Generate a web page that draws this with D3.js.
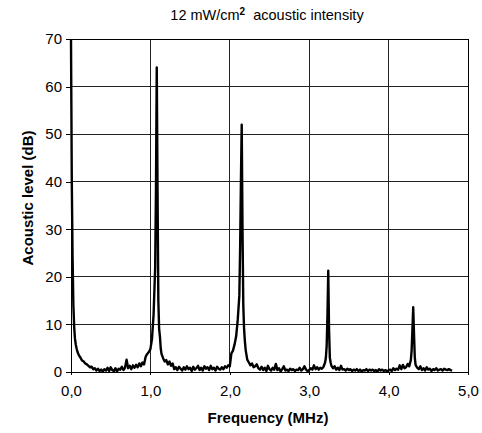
<!DOCTYPE html>
<html><head><meta charset="utf-8">
<script src="https://cdn.jsdelivr.net/npm/d3@7"></script>
<style>
body{margin:0;background:#fff;}
svg{display:block;font-family:"Liberation Sans",Arial,sans-serif;}
</style></head>
<body>
<svg id="c" width="482" height="433"></svg>
<script>
const title = "12 mW/cm";
const titleSup = "2";
const titleRest = "acoustic intensity";
const xLabel = "Frequency (MHz)";
const yLabel = "Acoustic level (dB)";
const xTicks = [0,1,2,3,4,5];
const xTickLabels = ["0,0","1,0","2,0","3,0","4,0","5,0"];
const yTicks = [0,10,20,30,40,50,60,70];

const freq = [0.00,0.005,0.01,0.02,0.03,0.04,0.05,0.06,0.07,0.08,0.09,0.10,0.12,0.14,0.16,0.18,0.20,0.22,0.24,0.26,0.28,0.30,
0.32,0.34,0.36,0.38,0.40,0.42,0.44,0.46,0.48,0.50,0.52,0.54,0.56,0.58,0.60,0.62,0.64,0.66,0.68,0.70,0.72,0.74,0.76,0.78,0.80,
0.82,0.84,0.86,0.88,0.90,0.92,0.94,0.96,0.98,1.00,1.02,1.04,1.06,1.07,1.08,1.09,1.10,1.11,1.12,1.13,1.14,1.16,1.18,1.20,
1.22,1.24,1.26,1.28,1.30,1.32,1.34,1.36,1.38,1.40,1.42,1.44,1.46,1.48,1.50,1.52,1.54,1.56,1.58,1.60,1.62,1.64,1.66,1.68,
1.70,1.72,1.74,1.76,1.78,1.80,1.82,1.84,1.86,1.88,1.90,1.92,1.94,1.96,1.98,2.00,2.02,2.04,2.06,2.08,2.10,2.12,2.13,2.14,
2.15,2.16,2.17,2.18,2.19,2.20,2.22,2.24,2.26,2.28,2.30,2.32,2.34,2.36,2.38,2.40,2.42,2.44,2.46,2.48,2.50,2.52,2.54,2.56,
2.58,2.60,2.62,2.64,2.66,2.68,2.70,2.72,2.74,2.76,2.78,2.80,2.82,2.84,2.86,2.88,2.90,2.92,2.94,2.96,2.98,3.00,3.02,3.04,
3.06,3.08,3.10,3.12,3.14,3.16,3.18,3.20,3.21,3.22,3.23,3.24,3.25,3.26,3.27,3.28,3.30,3.32,3.34,3.36,3.38,3.40,3.42,3.44,
3.46,3.48,3.50,3.52,3.54,3.56,3.58,3.60,3.62,3.64,3.66,3.68,3.70,3.72,3.74,3.76,3.78,3.80,3.82,3.84,3.86,3.88,3.90,3.92,
3.94,3.96,3.98,4.00,4.02,4.04,4.06,4.08,4.10,4.12,4.14,4.16,4.18,4.20,4.22,4.24,4.26,4.28,4.29,4.30,4.31,4.32,4.33,4.34,
4.36,4.38,4.40,4.42,4.44,4.46,4.48,4.50,4.52,4.54,4.56,4.58,4.60,4.62,4.64,4.66,4.68,4.70,4.72,4.74,4.76,4.78,4.80];

const level = [70,55,40,24,14,9.5,7,5.8,5,4.3,3.9,3.5,3.0,2.4,2.2,1.8,1.6,1.3,1.0,1.1,0.6,0.8,
0.3,0.7,0.2,0.5,0.1,0.6,0.3,0.9,0.2,1.0,0.4,0.2,0.8,0.1,0.7,0.5,1.1,0.4,0.9,2.6,0.8,1.3,0.6,1.4,0.9,
1.5,1.0,1.8,1.2,2.0,1.6,3.2,3.8,4.2,4.8,7,12,22,38,64,38,15,9,7.5,5,3.8,2.9,2.2,2.5,
1.6,2.2,1.3,1.8,0.6,1.0,0.4,1.1,0.7,0.3,1.0,0.5,1.2,0.6,0.9,0.2,1.1,0.5,0.8,1.3,0.4,0.9,0.3,1.2,
0.7,1.0,0.4,1.3,0.6,0.9,0.3,1.1,0.7,0.5,1.0,0.6,1.2,0.9,1.4,1.2,3.9,4.5,5.8,7.5,11,16,26,40,
52,30,14,9,6.5,4.6,2.6,2.0,1.4,1.8,1.0,1.2,1.6,0.8,0.5,1.1,0.4,0.9,0.2,1.3,0.6,0.3,0.9,0.5,
1.7,0.4,0.8,0.1,0.6,1.2,0.3,0.5,0.2,0.7,0.4,0.6,0.2,0.5,0.4,0.9,0.3,0.6,1.2,0.5,0.2,0.4,0.8,0.5,
1.4,0.6,1.0,0.5,0.9,0.7,1.1,2.0,3,5.5,12,21.3,9,3,2,1.3,0.8,1.2,0.5,0.9,0.4,1.3,0.5,0.6,
0.3,0.7,0.4,0.6,0.2,0.5,0.3,0.6,0.2,0.5,0.1,0.4,0.3,0.6,0.2,0.5,0.3,0.5,0.2,0.4,0.1,0.6,0.3,0.5,
0.2,0.4,0.2,0.3,0.5,0.2,0.8,0.4,0.7,0.5,1.4,0.6,1.5,0.8,1.0,1.7,1.2,2.5,4.5,9,13.6,8,3,1.5,
0.9,0.6,1.2,0.4,0.8,0.3,1.0,0.5,0.7,0.2,0.6,0.4,0.8,0.3,0.5,0.6,0.3,0.7,0.5,0.4,0.6,0.4,0.3];

const svg = d3.select("#c");
const m = {l:71, r:14, t:39, b:61};
const W = 482, H = 433;
const x = d3.scaleLinear().domain([0,5]).range([m.l, W-m.r]);
const y = d3.scaleLinear().domain([0,70]).range([H-m.b, m.t]);

// gridlines
svg.append("g").selectAll("line").data(yTicks).join("line")
  .attr("x1", m.l).attr("x2", W-m.r).attr("y1", d=>y(d)).attr("y2", d=>y(d))
  .attr("stroke","#222").attr("stroke-width",1).attr("shape-rendering","crispEdges");
svg.append("g").selectAll("line").data(xTicks).join("line")
  .attr("y1", m.t).attr("y2", H-m.b).attr("x1", d=>x(d)).attr("x2", d=>x(d))
  .attr("stroke","#222").attr("stroke-width",1).attr("shape-rendering","crispEdges");

// axes
const yAxis = d3.axisLeft(y).tickValues(yTicks).tickSize(5).tickPadding(4).tickFormat(d3.format("d"));
const gy = svg.append("g").attr("transform",`translate(${m.l},0)`).call(yAxis);
const xAxis = d3.axisBottom(x).tickValues(xTicks).tickSize(3).tickPadding(10).tickFormat((d,i)=>xTickLabels[i]);
const gx = svg.append("g").attr("transform",`translate(0,${H-m.b})`).call(xAxis);
[gx,gy].forEach(g=>{
  g.select(".domain").attr("stroke","#000").attr("shape-rendering","crispEdges");
  g.selectAll(".tick line").attr("stroke","#000").attr("shape-rendering","crispEdges");
  g.selectAll("text").attr("font-size",15).attr("fill","#000").attr("font-family","'Liberation Sans',Arial,sans-serif");
});
// frame
svg.append("rect").attr("x",m.l).attr("y",m.t).attr("width",W-m.r-m.l).attr("height",H-m.b-m.t)
  .attr("fill","none").attr("stroke","#000").attr("shape-rendering","crispEdges");

// data line
const pts = freq.map((f,i)=>[f, level[i]]);
svg.append("path").datum(pts)
  .attr("fill","none").attr("stroke","#000").attr("stroke-width",2.4).attr("stroke-linejoin","round")
  .attr("d", d3.line().x(d=>x(d[0])).y(d=>y(d[1])));

// titles
const t = svg.append("text").attr("x",267).attr("y",20).attr("text-anchor","middle")
  .attr("font-size",14.5).attr("fill","#000");
t.append("tspan").text(title);
t.append("tspan").attr("font-size",10).attr("font-weight","bold").attr("dy",-5).text(titleSup);
t.append("tspan").attr("dy",5).text("\u00a0 " + titleRest);

svg.append("text").attr("x",268).attr("y",423).attr("text-anchor","middle")
  .attr("font-size",15).attr("font-weight","bold").attr("fill","#000").text(xLabel);
svg.append("text").attr("transform","translate(33,198) rotate(-90)").attr("text-anchor","middle")
  .attr("font-size",15).attr("font-weight","bold").attr("fill","#000").text(yLabel);
</script>
</body></html>
